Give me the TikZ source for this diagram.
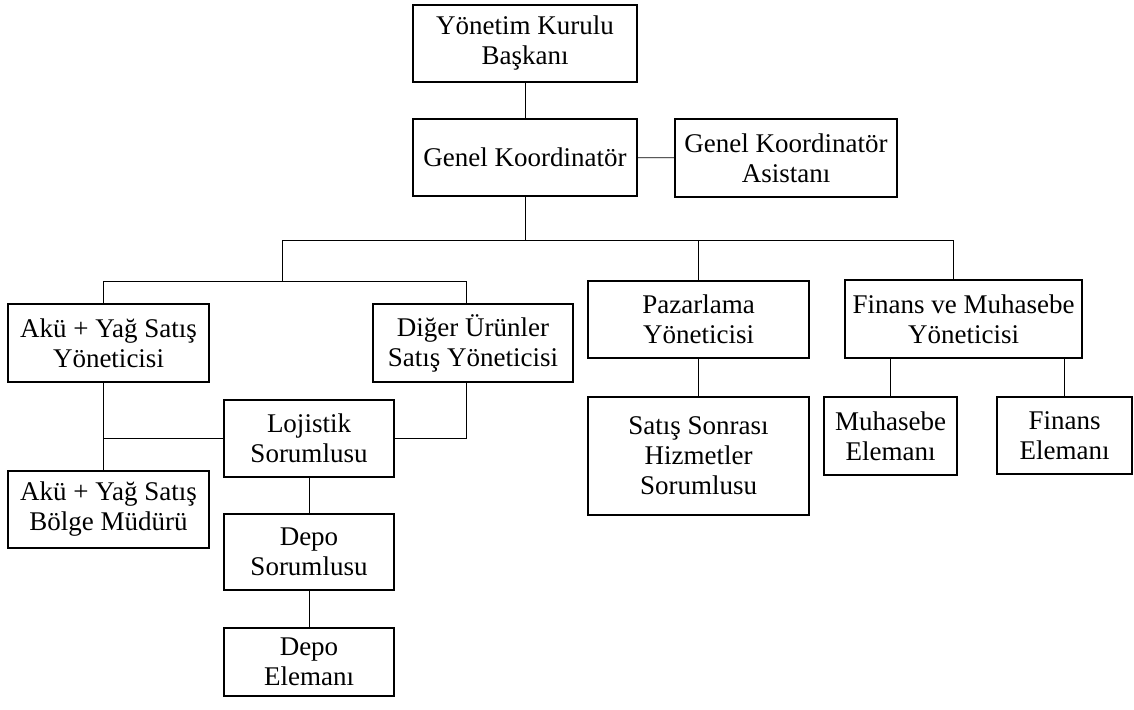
\documentclass[tikz,border=0pt]{standalone}
\usepackage{fontspec}
\setmainfont{Liberation Serif}
\usetikzlibrary{positioning}

\begin{document}
\begin{tikzpicture}[x=1pt, y=-1pt,
    box/.style={draw=black, line width=1.6pt, rectangle, inner sep=0pt, align=center, font=\fontsize{27}{30}\selectfont},
    link/.style={draw=black, line width=0.9pt}]
  \useasboundingbox (0,0) rectangle (1134,709);
  \node[box, minimum width=224pt, minimum height=77pt] (yk) at (525,43.5) {Yönetim Kurulu\\Başkanı};
  \node[box, minimum width=224pt, minimum height=77pt] (gk) at (525,157.5) {Genel Koordinatör};
  \node[box, minimum width=222pt, minimum height=78pt] (gka) at (786,158) {Genel Koordinatör\\Asistanı};
  \node[box, minimum width=201pt, minimum height=78pt] (akuyon) at (108.5,343) {Akü + Yağ Satış\\Yöneticisi};
  \node[box, minimum width=200pt, minimum height=78pt] (digeryon) at (473,343) {Diğer Ürünler\\Satış Yöneticisi};
  \node[box, minimum width=221pt, minimum height=77pt] (pazyon) at (698.5,319.5) {Pazarlama\\Yöneticisi};
  \node[box, minimum width=237pt, minimum height=78pt] (finyon) at (963.5,319) {Finans ve Muhasebe\\Yöneticisi};
  \node[box, minimum width=221pt, minimum height=118pt] (ssh) at (698.5,456) {Satış Sonrası\\Hizmetler\\Sorumlusu};
  \node[box, minimum width=133pt, minimum height=78pt] (muhel) at (890.5,436) {Muhasebe\\Elemanı};
  \node[box, minimum width=135pt, minimum height=77pt] (finel) at (1064.5,435.5) {Finans\\Elemanı};
  \node[box, minimum width=170pt, minimum height=77pt] (lojsor) at (309,438.5) {Lojistik\\Sorumlusu};
  \node[box, minimum width=201pt, minimum height=77pt] (bolge) at (108.5,509.5) {Akü + Yağ Satış\\Bölge Müdürü};
  \node[box, minimum width=170pt, minimum height=76pt] (deposor) at (309,552) {Depo\\Sorumlusu};
  \node[box, minimum width=170pt, minimum height=68pt] (depoel) at (309,662) {Depo\\Elemanı};

  \coordinate (busl) at (282,240);
  \coordinate (busr) at (953,240);
  \coordinate (sl) at (103,281);
  \coordinate (sr) at (466,281);

  \draw[link] (yk) -- (gk);
  \draw[link] (gk) -- (gka);
  \draw[link] (gk.south) -- (gk.south |- busl);
  \draw[link] (busl) -- (busr);
  \draw[link] (busr) -- (busr |- finyon.north);
  \draw[link] (pazyon.north) -- (pazyon.north |- busl);
  \draw[link] (busl) -- (busl |- sl);
  \draw[link] (sl) -- (sr);
  \draw[link] (sl) -- (sl |- akuyon.north);
  \draw[link] (sr) -- (sr |- digeryon.north);
  \draw[link] (sl |- akuyon.south) -- (sl |- bolge.north);
  \draw[link] (sl |- lojsor.west) -- (lojsor.west);
  \draw[link] (sr |- digeryon.south) |- (lojsor.east);
  \draw[link] (lojsor) -- (deposor);
  \draw[link] (deposor) -- (depoel);
  \draw[link] (pazyon) -- (ssh);
  \draw[link] (muhel.north) -- (muhel.north |- finyon.south);
  \draw[link] (finel.north) -- (finel.north |- finyon.south);
\end{tikzpicture}
\end{document}
